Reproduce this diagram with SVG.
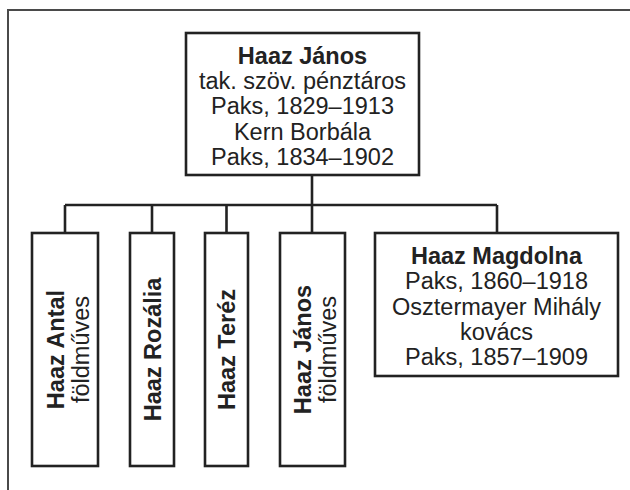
<svg xmlns="http://www.w3.org/2000/svg" width="630" height="490" viewBox="0 0 630 490">
<style>
.box{fill:#fff;stroke:#222;stroke-width:2.6}
.ln{fill:none;stroke:#222;stroke-width:2.6}
.frame{fill:none;stroke:#4a4a4a;stroke-width:2}
text{font-family:"Liberation Sans",Arial,sans-serif;font-size:23.5px;fill:#222;text-anchor:middle}
.b{font-weight:bold}
</style>
<rect width="630" height="490" fill="#fff"/>
<path class="frame" d="M8 490 V10 H630"/>
<g id="connectors">
<path class="ln" d="M312 175 V205 M65 205 H497 M65 205 V233 M152 205 V233 M226.5 205 V233 M312 205 V233 M497 205 V233"/>
</g>
<g id="haaz-janos-sr">
<rect class="box" x="186" y="33" width="233" height="142"/>
<text x="302.5" y="64" class="b">Haaz János</text>
<text x="302.5" y="89">tak. szöv. pénztáros</text>
<text x="302.5" y="114">Paks, 1829–1913</text>
<text x="302.5" y="139.5">Kern Borbála</text>
<text x="302.5" y="164.5">Paks, 1834–1902</text>
</g>
<g id="haaz-antal">
<rect class="box" x="32" y="233" width="66" height="233"/>
<text transform="translate(64,349.5) rotate(-90)" class="b">Haaz Antal</text>
<text transform="translate(89,349.5) rotate(-90)">földműves</text>
</g>
<g id="haaz-rozalia">
<rect class="box" x="130" y="233" width="44" height="233"/>
<text transform="translate(160.5,349.5) rotate(-90)" class="b">Haaz Rozália</text>
</g>
<g id="haaz-terez">
<rect class="box" x="205" y="233" width="43" height="233"/>
<text transform="translate(235,349.5) rotate(-90)" class="b">Haaz Teréz</text>
</g>
<g id="haaz-janos-jr">
<rect class="box" x="280" y="233" width="65" height="233"/>
<text transform="translate(311,349.5) rotate(-90)" class="b">Haaz János</text>
<text transform="translate(336,349.5) rotate(-90)">földműves</text>
</g>
<g id="haaz-magdolna">
<rect class="box" x="375" y="233" width="243" height="143"/>
<text x="496.5" y="263.5" class="b">Haaz Magdolna</text>
<text x="496.5" y="289">Paks, 1860–1918</text>
<text x="496.5" y="314.5">Osztermayer Mihály</text>
<text x="496.5" y="340">kovács</text>
<text x="496.5" y="365">Paks, 1857–1909</text>
</g>
</svg>
